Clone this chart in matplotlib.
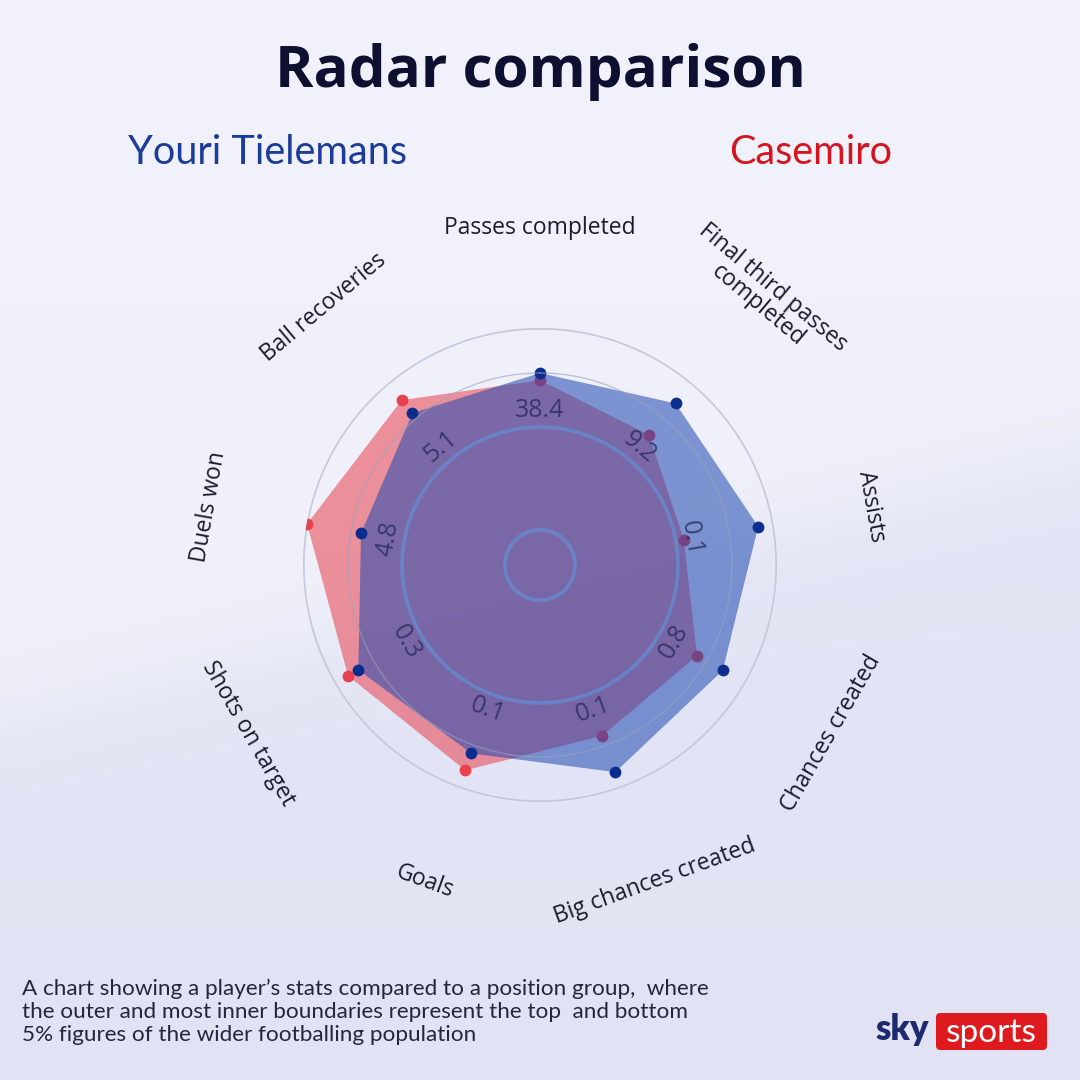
import numpy as np
import matplotlib
matplotlib.use("Agg")
import matplotlib.pyplot as plt
from matplotlib.patches import FancyBboxPatch

# ---------------- data ----------------
categories = ["Passes completed", "Final third passes\ncompleted", "Assists",
              "Chances created", "Big chances created", "Goals",
              "Shots on target", "Duels won", "Ball recoveries"]
median_labels = ["38.4", "9.2", "0.1", "0.8", "0.1", "0.1", "0.3", "4.8", "5.1"]
tielemans = [81, 89, 93.5, 89, 93, 84.6, 88.5, 76.7, 83.7]
casemiro = [78, 71.6, 61.6, 76.5, 76.7, 92.2, 93.5, 99.8, 90.8]
players = ["Youri Tielemans", "Casemiro"]

# ---------------- style ----------------
BLUE_FILL = "#1f48b0"
RED_FILL = "#e8414e"
BLUE_DOT = "#0b2d8e"
RED_DOT = "#e8414e"
FONT = "Open Sans"

W = H = 1080
fig = plt.figure(figsize=(10.8, 10.8), dpi=100)

# background gradient
bg = fig.add_axes([0, 0, 1, 1])
bg.set_axis_off()
yy, xx = np.mgrid[0:H, 0:W]
top = np.array([241, 242, 251]) / 255
bot = np.array([229, 231, 248]) / 255
edge = 720 - 0.25 * xx
t = 1 / (1 + np.exp(-(yy - edge) / 25))
vert = (yy / H)[..., None]
img = top * (1 - t[..., None]) + bot * t[..., None]
img = img * (1 - 0.015 * vert)
bg.imshow(np.clip(img, 0, 1), extent=[0, W, H, 0], aspect="auto", zorder=0)
bg.set_xlim(0, W)
bg.set_ylim(H, 0)

# ---------------- radar ----------------
cx, cy, R = 540, 565, 237
ax = fig.add_axes([(cx - R) / W, 1 - (cy + R) / H, 2 * R / W, 2 * R / H],
                  projection="polar")
ax.set_theta_zero_location("N")
ax.set_theta_direction(-1)
ax.set_ylim(0, 100)
ax.axis("off")
ax.patch.set_alpha(0)

n = len(categories)
angles = np.arange(n) * 2 * np.pi / n
circ = np.linspace(0, 2 * np.pi, 400)

# grid circles
ax.plot(circ, np.full_like(circ, 100), color="#c3c9da", lw=2.4, zorder=1)
ax.plot(circ, np.full_like(circ, 81), color="#9aa2c0", lw=1.0, alpha=0.6, zorder=4.2)


def tangent_rot(deg):
    if deg <= 90:
        return -deg
    if deg < 270:
        return 180 - deg
    return 360 - deg


# category labels
for a, lab in zip(angles, categories):
    d = np.degrees(a)
    r = 148 if "\n" in lab else 142
    ax.text(a, r, lab, rotation=tangent_rot(d), rotation_mode="anchor",
            ha="center", va="center", fontsize=16.5, color="#1b1b2e",
            family=FONT, linespacing=1.0, clip_on=False, zorder=5)

ang_c = np.append(angles, angles[0])
cas_c = np.append(casemiro, casemiro[0])
tie_c = np.append(tielemans, tielemans[0])

ax.fill(ang_c, cas_c, color=RED_FILL, alpha=0.55, lw=0, zorder=3)
ax.plot(angles, casemiro, "o", color=RED_DOT, ms=8.5, mec="none", zorder=3.1)
ax.fill(ang_c, tie_c, color=BLUE_FILL, alpha=0.55, lw=0, zorder=3.5)
ax.plot(angles, tielemans, "o", color=BLUE_DOT, ms=8.5, mec="none", zorder=4)

# inner rings drawn over the fills, semi-transparent
ax.plot(circ, np.full_like(circ, 58.2), color="#5f95e0", lw=2.6, alpha=0.6, zorder=4.3)
ax.plot(circ, np.full_like(circ, 14.8), color="#5f95e0", lw=2.6, alpha=0.6, zorder=4.3)

# median labels
for a, lab in zip(angles, median_labels):
    d = np.degrees(a)
    ax.text(a, 65, lab, rotation=tangent_rot(d), rotation_mode="anchor",
            ha="center", va="center", fontsize=18, color="#22265a",
            alpha=0.75, family=FONT, zorder=4.5)

# ---------------- titles ----------------
fig.text(0.5, 1 - 72 / H, "Radar comparison", ha="center", va="center",
         fontsize=42, fontweight="bold", color="#0d1030", family=FONT)
fig.text(128 / W, 1 - 152 / H, players[0], ha="left", va="center",
         fontsize=28.5, color="#1c3c9c", family="Lato")
fig.text(892 / W, 1 - 152 / H, players[1], ha="right", va="center",
         fontsize=28.5, color="#d6141f", family="Lato")

foot = ("A chart showing a player\u2019s stats compared to a position group,  where\n"
        "the outer and most inner boundaries represent the top  and bottom\n"
        "5% figures of the wider footballing population")
fig.text(22 / W, 1 - 1012 / H, foot, ha="left", va="center", fontsize=16.2,
         color="#24263a", family="Lato", linespacing=1.2)

# sky sports logo
fig.text(902 / W, 1 - 1030 / H, "sky", ha="center", va="center", fontsize=25,
         fontweight="heavy", color="#1d2b6e", family="Lato")
logo = FancyBboxPatch((936 / W, 1 - 1050 / H), 111 / W, 37 / H,
                      boxstyle="round,pad=0,rounding_size=0.004",
                      transform=fig.transFigure, facecolor="#de1a1f",
                      edgecolor="none", zorder=5)
fig.add_artist(logo)
fig.text(991 / W, 1 - 1033 / H, "sports", ha="center", va="center",
         fontsize=24, color="white", family="Lato", zorder=6)

fig.savefig("out.png", dpi=100)
